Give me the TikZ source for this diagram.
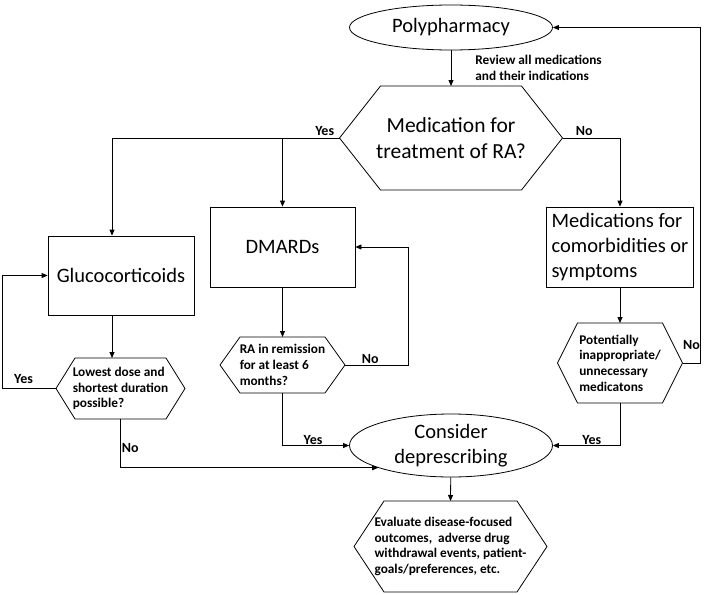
\documentclass[tikz,border=0pt]{standalone}
\usepackage{fontspec}
\setmainfont{Carlito}
\usepackage{tikz}
\usetikzlibrary{arrows.meta,positioning,shapes.geometric,calc}

\begin{document}
\begin{tikzpicture}[x=1pt, y=-1pt, line width=0.8pt,
  big/.style={font=\fontsize{20.5}{25}\selectfont},
  small/.style={font=\bfseries\fontsize{13.3}{15.7}\selectfont, align=left, inner sep=0pt},
  lbl/.style={font=\bfseries\fontsize{14}{16}\selectfont, inner sep=1pt},
  box/.style={draw, rectangle, big},
  oval/.style={draw, ellipse, big, align=center, inner sep=0pt},
  hexa/.style args={#1/#2/#3}{append after command={\pgfextra{\edef\hxn{\tikzlastnode}
    \draw ($(\hxn.center)+(-#1,0)$) coordinate (\hxn-w)
      -- ($(\hxn.center)+(#3-#1,-#2)$) -- ($(\hxn.center)+(0,-#2)$) coordinate (\hxn-n)
      -- ($(\hxn.center)+(#1-#3,-#2)$) -- ($(\hxn.center)+(#1,0)$) coordinate (\hxn-e)
      -- ($(\hxn.center)+(#1-#3,#2)$) -- ($(\hxn.center)+(0,#2)$) coordinate (\hxn-s)
      -- ($(\hxn.center)+(#3-#1,#2)$) -- cycle;}}},
  arr/.style={-{Triangle[length=6pt,width=5pt]}}]
\useasboundingbox (0,0) rectangle (709,594);

\node[oval, minimum width=203pt, minimum height=45pt] (poly) at (451,27.5) {Polypharmacy};
\node[hexa=111.5/52/41, font=\fontsize{21.5}{26}\selectfont, align=center] (main) at (451,138) {Medication for\\treatment of RA?};
\node[small, anchor=north west] (review) at (475,55) {Review all medications\\and their indications};

\node[box, minimum width=146pt, minimum height=79pt] (glu) at (121,275.5) {Glucocorticoids};
\node[box, minimum width=145pt, minimum height=80pt] (dm) at (282.5,247) {DMARDs};
\node[box, minimum width=147pt, minimum height=80pt, align=left] (med) at (620,247) {Medications for\\comorbidities or\\symptoms};

\node[small, hexa=64.5/30.5/19] (low) at (120.5,388.5) {Lowest dose and\\shortest duration\\possible?};
\node[small, hexa=62.5/28/20] (rem) at (282.5,365) {RA in remission\\for at least 6\\months?};
\node[small, hexa=62.5/40/20] (pot) at (620,363) {Potentially\\inappropriate/\\unnecessary\\medicatons};

\node[oval, minimum width=203pt, minimum height=63pt] (cons) at (451,445.5) {Consider\\deprescribing};
\node[small, hexa=96.5/45.5/30] (eval) at (450.5,546.5) {Evaluate disease-focused\\outcomes,~ adverse drug\\withdrawal events, patient-\\goals/preferences, etc.};

% top decision
\draw[arr] (poly) -- (main-n);
\draw[arr] (main-w) node[lbl, above left=1pt and 4pt] {Yes} -| ([xshift=-9pt]glu.north);
\draw[arr] (main-w -| dm.north) -- (dm.north);
\draw[arr] (main-e) node[lbl, above right=1pt and 12pt] {No} -| (med.north);

% glucocorticoids
\draw[arr] ([xshift=-9pt]glu.south) -- ([xshift=-9pt]glu.south |- low-n);
\draw[arr] (low-w) -- ++(-54,0) node[lbl, above=4pt, pos=0.6] {Yes} |- (glu.west);
\draw[arr] (low-s) |- (cons.197) node[lbl, right, pos=0.3] {No};

% DMARDs
\draw[arr] (dm.south) -- (rem-n);
\draw[arr] (rem-e) -- ++(63,0) node[lbl, above, pos=0.4] {No} |- (dm.east);
\draw[arr] (rem-s) |- (cons.west) node[lbl, above, pos=0.73] {Yes};

% comorbidities
\draw[arr] (med.south) -- (pot-n);
\draw[arr] (pot-e) -- ++(18,0) node[lbl, above=12pt, midway] {No} |- (poly.east);
\draw[arr] (pot-s) |- (cons.east) node[lbl, above, pos=0.71] {Yes};

\draw[arr] (cons) -- (eval-n);
\end{tikzpicture}
\end{document}
